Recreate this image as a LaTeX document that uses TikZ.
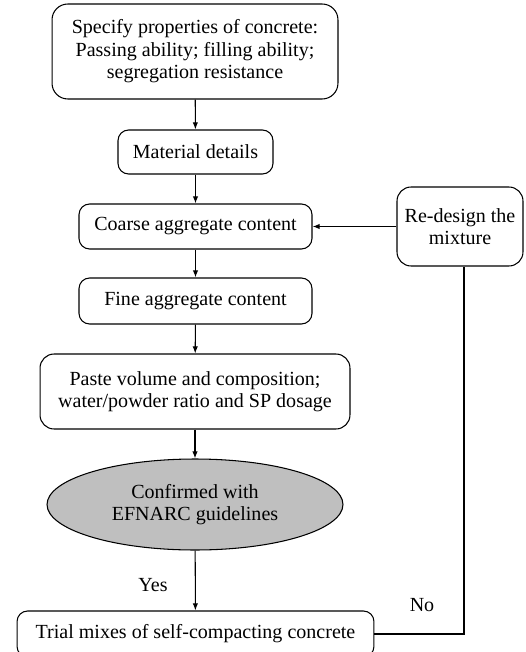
\documentclass[tikz,border=0pt]{standalone}
\usepackage{fontspec}
\setmainfont{Liberation Serif}
\usetikzlibrary{shapes.geometric,arrows.meta}
\begin{document}
\begin{tikzpicture}[x=0.02cm,y=-0.02cm,line width=0.6pt]
    \useasboundingbox (0,0) rectangle (525,652);
    \begin{scope}[every node/.style={draw,rounded corners=6pt,align=center,inner sep=0pt,font=\fontsize{11.4}{12.8}\selectfont}]
    \node[minimum width=5.72cm,minimum height=1.9cm,rounded corners=9pt] (spec) at (195,51.5) {Specify properties of concrete:\\Passing ability; filling ability;\\segregation resistance};
    \node[minimum width=3.1cm,minimum height=0.88cm] (mat) at (195.5,152) {Material details};
    \node[minimum width=4.66cm,minimum height=0.9cm] (coarse) at (195.5,226.5) {Coarse aggregate content};
    \node[minimum width=4.66cm,minimum height=0.92cm] (fine) at (195.5,301) {Fine aggregate content};
    \node[minimum width=6.2cm,minimum height=1.5cm,rounded corners=8pt] (paste) at (195,391.5) {Paste volume and composition;\\water/powder ratio and SP dosage};
    \node[ellipse,sharp corners,fill=black!25,minimum width=5.92cm,minimum height=1.82cm] (check) at (195,504.5) {Confirmed with\\EFNARC guidelines};
    \node[minimum width=7.14cm,minimum height=0.92cm] (trial) at (195.5,634) {Trial mixes of self-compacting concrete};
    \node[minimum width=2.52cm,minimum height=1.58cm,rounded corners=8pt] (redes) at (460,226.5) {Re-design the\\mixture};
    \end{scope}
    \node[font=\fontsize{11.4}{12.8}\selectfont] (yes) at (153,585) {Yes};
    \node[font=\fontsize{11.4}{12.8}\selectfont] (no) at (422,605) {No};
    \coordinate (turn) at (464,634);
    \begin{scope}[every edge/.style={draw,-{Latex[length=4pt,width=3pt]}}]
    \path (spec) edge (mat);
    \path (mat) edge (coarse);
    \path (coarse) edge (fine);
    \path (fine) edge (paste);
    \path (paste) edge (check);
    \path (check) edge (trial);
    \path (redes) edge (coarse);
    \end{scope}
    \draw (trial.east) -- (turn) -- (turn |- redes.south);
\end{tikzpicture}
\end{document}
